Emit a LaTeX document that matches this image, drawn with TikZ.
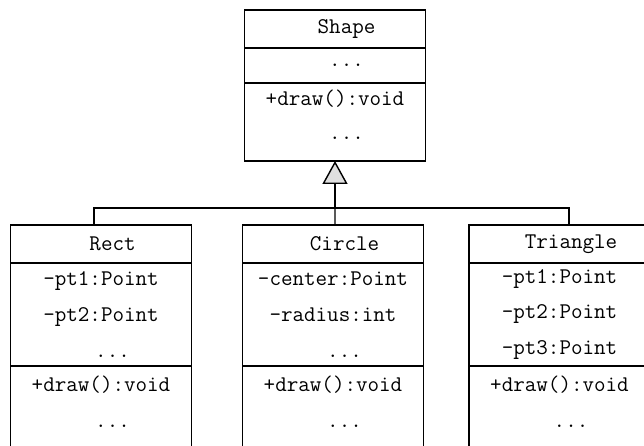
\documentclass[tikz,border=0pt]{standalone}
\usetikzlibrary{positioning,arrows.meta}
\newcommand{\lpad}{\hphantom{xx}}

\begin{document}
\begin{tikzpicture}[x=1bp,y=1bp,line width=1.4bp,
  font=\fontsize{22.5}{36}\selectfont\ttfamily,
  part/.style={draw,outer sep=0pt,inner sep=0pt,minimum width=181bp,align=center},
  title/.style={part,minimum height=38bp},
  extends/.style={-{Triangle[length=23bp,width=25bp,fill=gray!25]}}]
  \useasboundingbox (0,0) rectangle (644,446);
  \clip (0,0) rectangle (644,446);

  % 父类
  \node[title] (shape) at (335,417) {\lpad Shape};
  \node[part,minimum height=35bp,below=0pt of shape] (shapeattr) {\lpad ...};
  \node[part,minimum height=78bp,below=0pt of shapeattr] (shapeops) {+draw():void\\[-2bp]\lpad ...\\[-21bp]\mbox{}};

  % 子类
  \node[title] (rect) at (101,202) {\lpad Rect};
  \node[part,minimum height=103bp,below=0pt of rect] (rectattr) {-pt1:Point\\-pt2:Point\\\lpad ...};
  \node[part,minimum height=108bp,below=0pt of rectattr] (rectops) {+draw():void\\\lpad ...\\\mbox{}};

  \node[title] (circ) at (333,202) {\lpad Circle};
  \node[part,minimum height=103bp,below=0pt of circ] (circattr) {-center:Point\\-radius:int\\\lpad ...};
  \node[part,minimum height=108bp,below=0pt of circattr] (circops) {+draw():void\\\lpad ...\\\mbox{}};

  \node[title] (tri) at (559.5,202) {\lpad Triangle};
  \node[part,minimum height=103bp,below=0pt of tri] (triattr) {-pt1:Point\\-pt2:Point\\-pt3:Point};
  \node[part,minimum height=108bp,below=0pt of triattr] (triops) {+draw():void\\\lpad ...\\\mbox{}};

  % 继承关系
  \coordinate (bus) at (335,238);
  \draw[extends] (bus) -- (shapeops.south);
  \draw ([xshift=-7bp]rect.north) |- (bus) -| ([xshift=9.5bp]tri.north);
  \draw ([xshift=2bp]circ.north) -- (bus);
\end{tikzpicture}
\end{document}
